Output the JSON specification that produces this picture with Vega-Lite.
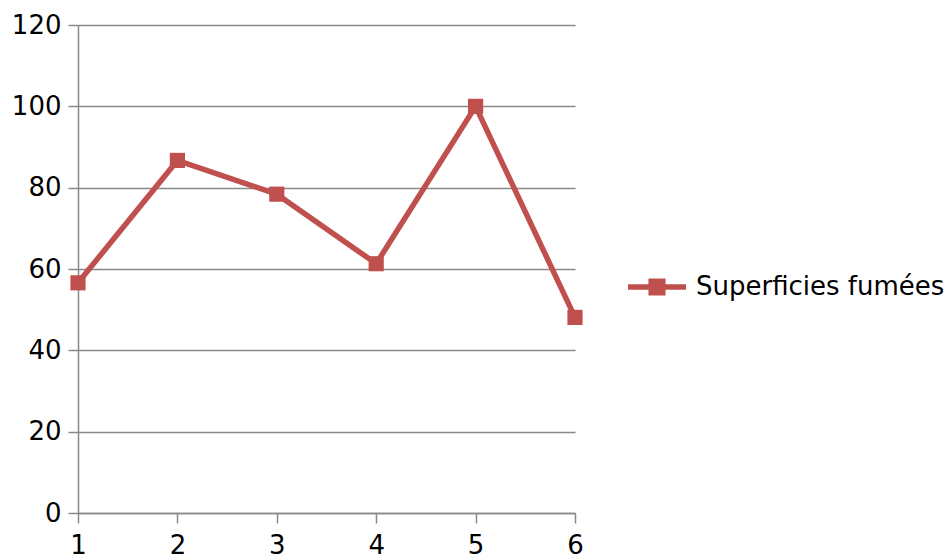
{
  "$schema": "https://vega.github.io/schema/vega-lite/v6.json",
  "autosize": {"type": "none"},
  "width": 497,
  "height": 488,
  "padding": {"left": 78, "top": 25, "right": 369, "bottom": 46},
  "background": "white",
  "config": {
    "font": "DejaVu Sans",
    "view": {"stroke": null},
    "axis": {
      "labelFont": "DejaVu Sans",
      "labelFontSize": 26,
      "labelColor": "#000000",
      "domainColor": "#898989",
      "domainWidth": 1.5,
      "tickColor": "#898989",
      "tickWidth": 1.5,
      "tickSize": 10,
      "gridColor": "#898989",
      "gridWidth": 1.5,
      "gridOpacity": 1,
      "title": null
    }
  },
  "data": {
    "values": [
      {"x": 1, "value": 56.6, "serie": "Superficies fumées"},
      {"x": 2, "value": 86.7, "serie": "Superficies fumées"},
      {"x": 3, "value": 78.4, "serie": "Superficies fumées"},
      {"x": 4, "value": 61.3, "serie": "Superficies fumées"},
      {"x": 5, "value": 100, "serie": "Superficies fumées"},
      {"x": 6, "value": 48.1, "serie": "Superficies fumées"}
    ]
  },
  "mark": {
    "type": "line",
    "strokeWidth": 5.5,
    "point": {"shape": "square", "size": 230, "filled": true, "opacity": 1}
  },
  "encoding": {
    "x": {
      "field": "x",
      "type": "quantitative",
      "scale": {"domain": [1, 6], "nice": false, "zero": false},
      "axis": {"values": [1, 2, 3, 4, 5, 6], "grid": false, "labelPadding": 9, "labelFlush": false}
    },
    "y": {
      "field": "value",
      "type": "quantitative",
      "scale": {"domain": [0, 120], "nice": false},
      "axis": {"values": [0, 20, 40, 60, 80, 100, 120], "grid": true, "labelPadding": 7}
    },
    "color": {
      "field": "serie",
      "type": "nominal",
      "scale": {"range": ["#C0504D"]},
      "legend": {
        "title": null,
        "orient": "none",
        "legendX": 547,
        "legendY": 230,
        "labelFont": "DejaVu Sans",
        "labelFontSize": 26,
        "labelColor": "#000000",
        "labelLimit": 0,
        "symbolType": "M-1,0H1M-0.2,-0.2H0.2V0.2H-0.2Z",
        "symbolSize": 3364,
        "symbolStrokeWidth": 5.5,
        "labelOffset": 7,
        "encode": {
          "symbols": {"update": {"fill": {"value": "#C0504D"}, "stroke": {"value": "#C0504D"}, "opacity": {"value": 1}}}
        }
      }
    }
  }
}
